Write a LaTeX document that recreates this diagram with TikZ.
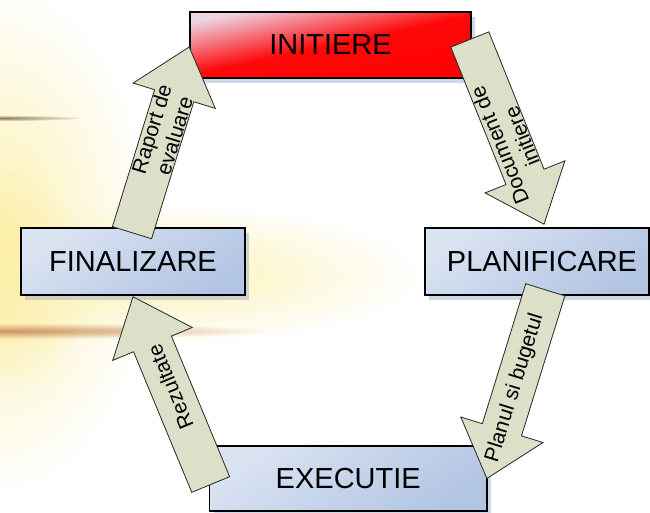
\documentclass[tikz,border=0pt]{standalone}
\usepackage{fontspec}
\setmainfont{Liberation Sans}
\usetikzlibrary{calc,fadings,shadows}
\definecolor{boxlight}{RGB}{218,227,242}
\definecolor{boxdark}{RGB}{178,197,227}
\definecolor{redlight}{RGB}{236,212,228}
\definecolor{arrowfill}{RGB}{221,224,201}
\definecolor{shadowcol}{RGB}{150,170,200}
\definecolor{glowyellow}{RGB}{251,236,150}
\definecolor{streakorange}{RGB}{205,150,100}
\definecolor{streakbrown}{RGB}{140,120,95}
\tikzfading[name=softglow, inner color=transparent!0, outer color=transparent!100]
\newcommand\fatarrow[2]{%
  \coordinate (#1h) at ($(#2)!51pt!(#1)$);
  \draw[fatarrow] ($(#1)!20.5pt!90:(#2)$) -- ($(#1h)!20.5pt!90:(#2)$) -- ($(#1h)!43pt!90:(#2)$) -- (#2) -- ($(#1h)!43pt!-90:(#2)$) -- ($(#1h)!20.5pt!-90:(#2)$) -- ($(#1)!20.5pt!-90:(#2)$) -- cycle;}
\begin{document}
\begin{tikzpicture}[x=1pt,y=1pt,
  box/.style={draw=black, line width=1.6pt, inner sep=0pt,
    font=\fontsize{29}{32}\selectfont,
    top color=boxlight, bottom color=boxdark, shading angle=35,
    drop shadow={shadow xshift=4pt, shadow yshift=-5pt, fill=shadowcol, opacity=0.45}},
  initbox/.style={box, top color=redlight, bottom color=red, middle color=red!96!redlight, shading angle=12},
  fatarrow/.style={draw=black!85, line width=0.8pt, fill=arrowfill, line join=miter},
  lab/.style={font=\fontsize{21}{24}\selectfont, align=center, inner sep=0pt, sloped, allow upside down}]
\useasboundingbox (0,0) rectangle (650,-513);
% background glow
\fill[white] (0,0) rectangle (650,-513);
\fill[glowyellow!75!white, path fading=softglow] (0,-240) ellipse (150 and 250);
\fill[glowyellow!85!white, path fading=softglow] (0,-280) ellipse (90 and 110);
\fill[glowyellow!70!white, path fading=softglow] (170,-275) ellipse (250 and 70);
\fill[streakbrown, path fading=softglow] (0,-118) ellipse (85 and 3);
\fill[streakorange, path fading=softglow] (10,-331) ellipse (260 and 8);
% boxes
\node[initbox, minimum width=281pt, minimum height=66pt] (init) at (330.5,-45) {INITIERE};
\node[box, minimum width=224pt, minimum height=67pt] (final) at (133,-261.5) {FINALIZARE};
\node[box, minimum width=224pt, minimum height=67pt] (plan) at (537,-261.5) {\hspace*{10pt}PLANIFICARE};
\node[box, minimum width=277.5pt, minimum height=65pt] (exec) at (348.25,-478.5) {EXECUTIE};
% connector end points
\coordinate (ra) at ($(final.north)+(-1,-5.5)$);
\coordinate (rb) at ($(init.west)+(0,-2)$);
\coordinate (da) at ($(init.east)+(-2,5.5)$);
\coordinate (db) at ($(plan.north)+(7,3)$);
\coordinate (pa) at ($(plan.south)+(8.3,6)$);
\coordinate (pb) at ($(exec.east)+(-1,0)$);
\coordinate (za) at ($(exec.west)+(2,-6)$);
\coordinate (zb) at ($(final.south)+(0,-1)$);
% arrows
\fatarrow{ra}{rb}
\fatarrow{da}{db}
\fatarrow{pa}{pb}
\fatarrow{za}{zb}
% labels
\path (ra) -- (rb) node[lab, pos=0.54] {Raport de\\evaluare};
\path (db) -- (da) node[lab, pos=0.45] {Document de\\initiere};
\path (pb) -- (pa) node[lab, pos=0.48] {Planul si bugetul};
\path (za) -- (zb) node[lab, pos=0.52] {Rezultate};
\end{tikzpicture}
\end{document}
